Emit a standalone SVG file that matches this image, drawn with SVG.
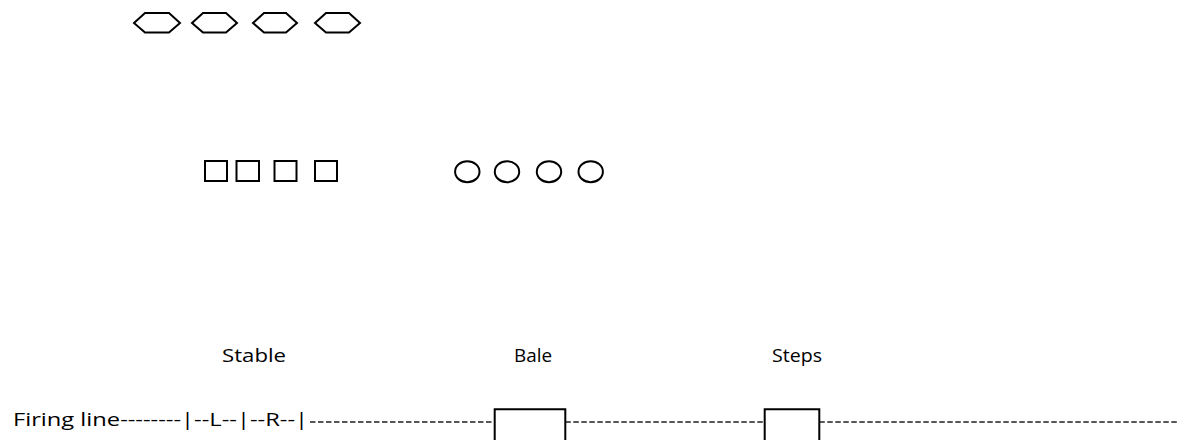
<svg xmlns="http://www.w3.org/2000/svg" width="1177" height="440" viewBox="0 0 1177 440">
<style>
.s{fill:none;stroke:#000;stroke-width:2}
.t{font-family:"Open Sans","Liberation Sans",sans-serif;font-size:18px;fill:#000}
.d{fill:none;stroke:#222;stroke-width:1.6;stroke-dasharray:5.5 2.5}
</style>
<rect width="1177" height="440" fill="#fff"/>
<g id="hexagons">
<polygon class="s" points="134,23 145,13 169,13 180,23 169,32.5 145,32.5"/>
<polygon class="s" points="192,23 203,13 226,13 237,23 226,32.5 203,32.5"/>
<polygon class="s" points="253,23 264,13 286,13 297,23 286,32.5 264,32.5"/>
<polygon class="s" points="315,23 326,13 349,13 360,23 349,32.5 326,32.5"/>
</g>
<g id="squares">
<rect class="s" x="205" y="161" width="22" height="20"/>
<rect class="s" x="236.5" y="161" width="22.5" height="20"/>
<rect class="s" x="274.5" y="161" width="22" height="20"/>
<rect class="s" x="315" y="161" width="22" height="20"/>
</g>
<g id="circles">
<ellipse class="s" cx="467.3" cy="171.7" rx="12.2" ry="10.5"/>
<ellipse class="s" cx="507" cy="171.7" rx="12.2" ry="10.5"/>
<ellipse class="s" cx="549" cy="171.7" rx="12.2" ry="10.5"/>
<ellipse class="s" cx="590.7" cy="171.7" rx="12.2" ry="10.5"/>
</g>
<g id="labels">
<text class="t" x="222" y="362" textLength="64" lengthAdjust="spacingAndGlyphs">Stable</text>
<text class="t" x="514" y="362" textLength="38" lengthAdjust="spacingAndGlyphs">Bale</text>
<text class="t" x="772" y="362" textLength="50" lengthAdjust="spacingAndGlyphs">Steps</text>
</g>
<g id="firing-line">
<text class="t" x="13" y="426" textLength="295" lengthAdjust="spacingAndGlyphs">Firing line--------|--L--|--R--|</text>
</g>
<g id="connectors">
<line class="d" x1="310" y1="422" x2="494.7" y2="422"/>
<line class="d" x1="565.3" y1="422" x2="764.7" y2="422"/>
<line class="d" x1="819.3" y1="422" x2="1177" y2="422"/>
</g>
<g id="bale-box">
<polyline class="s" points="494.7,441 494.7,409.3 565.3,409.3 565.3,441"/>
</g>
<g id="steps-box">
<polyline class="s" points="764.7,441 764.7,409.3 819.3,409.3 819.3,441"/>
</g>
</svg>
